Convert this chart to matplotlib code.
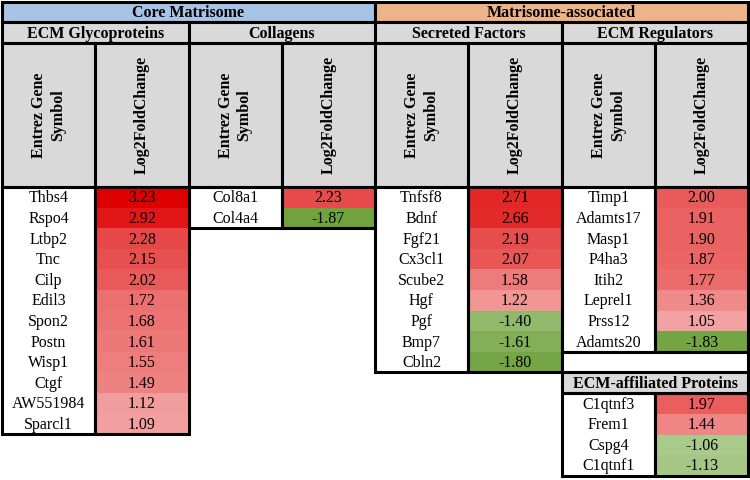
import matplotlib
matplotlib.use("Agg")
import matplotlib.pyplot as plt
from matplotlib.patches import Rectangle
import numpy as np

# ---- data ----
super_groups = ["Core Matrisome", "Matrisome-associated"]
group_names = ["ECM Glycoproteins", "Collagens", "Secreted Factors", "ECM Regulators"]
col_headers = ["Entrez Gene\nSymbol", "Log2FoldChange"]

gly_genes = ["Thbs4", "Rspo4", "Ltbp2", "Tnc", "Cilp", "Edil3", "Spon2", "Postn",
             "Wisp1", "Ctgf", "AW551984", "Sparcl1"]
gly_vals = [3.23, 2.92, 2.28, 2.15, 2.02, 1.72, 1.68, 1.61, 1.55, 1.49, 1.12, 1.09]

col_genes = ["Col8a1", "Col4a4"]
col_vals = [2.23, -1.87]

sec_genes = ["Tnfsf8", "Bdnf", "Fgf21", "Cx3cl1", "Scube2", "Hgf", "Pgf", "Bmp7", "Cbln2"]
sec_vals = [2.71, 2.66, 2.19, 2.07, 1.58, 1.22, -1.40, -1.61, -1.80]

reg_genes = ["Timp1", "Adamts17", "Masp1", "P4ha3", "Itih2", "Leprel1", "Prss12", "Adamts20"]
reg_vals = [2.00, 1.91, 1.90, 1.87, 1.77, 1.36, 1.05, -1.83]

aff_title = "ECM-affiliated Proteins"
aff_genes = ["C1qtnf3", "Frem1", "Cspg4", "C1qtnf1"]
aff_vals = [1.97, 1.44, -1.06, -1.13]

# ---- style ----
FONT = "Liberation Serif"
BLUE = "#a7c3e6"
ORANGE = "#efb389"
GREY = "#d9d9d9"
LW = 2.2
FS = 11.5

all_vals = gly_vals + col_vals + sec_vals + reg_vals + aff_vals
vmax = max(all_vals)
vmin = min(all_vals)
RED = np.array([222, 0, 0]) / 255
GREEN = np.array([112, 163, 62]) / 255
WHITE = np.array([252, 240, 240]) / 255
WHITE_G = np.array([245, 252, 240]) / 255


def val_color(v):
    if v >= 0:
        f = v / vmax
        return tuple(WHITE + (RED - WHITE) * f)
    f = v / vmin
    return tuple(WHITE_G + (GREEN - WHITE_G) * f)


fig = plt.figure(figsize=(7.5, 4.8), dpi=100)
ax = fig.add_axes([0, 0, 1, 1])
ax.set_xlim(0, 750)
ax.set_ylim(480, 0)
ax.axis("off")

xs = [2, 95, 188.5, 282, 375, 468, 562, 655, 748]
r1 = (2, 22)
r2 = (22, 43)
r3 = (43, 187)
y0 = 187
rh = 20.6


def box(x0, y0_, x1, y1, fc, lw=LW, ec="black", z=1):
    ax.add_patch(Rectangle((x0, y0_), x1 - x0, y1 - y0_, facecolor=fc,
                           edgecolor=ec, linewidth=lw, zorder=z))


def txt(x, y, s, bold=False, rot=0, fs=FS):
    ax.text(x, y, s, ha="center", va="center", rotation=rot, fontsize=fs,
            fontweight="bold" if bold else "normal", family=FONT,
            multialignment="center", zorder=5)


# super headers
box(xs[0], r1[0], xs[4], r1[1], BLUE)
box(xs[4], r1[0], xs[8], r1[1], ORANGE)
txt((xs[0] + xs[4]) / 2, (r1[0] + r1[1]) / 2 + 1, super_groups[0], bold=True)
txt((xs[4] + xs[8]) / 2, (r1[0] + r1[1]) / 2 + 1, super_groups[1], bold=True)

# group headers
for i, g in enumerate(group_names):
    a, b = xs[2 * i], xs[2 * i + 2]
    box(a, r2[0], b, r2[1], GREY)
    txt((a + b) / 2, (r2[0] + r2[1]) / 2 + 1, g, bold=True)

# rotated column headers
for c in range(8):
    a, b = xs[c], xs[c + 1]
    box(a, r3[0], b, r3[1], GREY)
    txt((a + b) / 2, (r3[0] + r3[1]) / 2, col_headers[c % 2], bold=True, rot=90, fs=11.5)


def block(ci, genes, vals, ytop, nrows=None):
    a, m, b = xs[2 * ci], xs[2 * ci + 1], xs[2 * ci + 2]
    n = len(genes)
    for k, (g, v) in enumerate(zip(genes, vals)):
        yt = ytop + k * rh
        ax.add_patch(Rectangle((m, yt), b - m, rh, facecolor=val_color(v),
                               edgecolor="none", zorder=1))
        txt((a + m) / 2, yt + rh / 2 + 1, g)
        txt((m + b) / 2, yt + rh / 2 + 1, f"{v:.2f}", fs=FS)
    yb = ytop + n * rh
    box(a, ytop, m, yb, "none", z=3)
    box(m, ytop, b, yb, "none", z=3)
    return yb


block(0, gly_genes, gly_vals, y0)
block(1, col_genes, col_vals, y0)
ysec = block(2, sec_genes, sec_vals, y0)
yreg = block(3, reg_genes, reg_vals, y0)
# blank row under regulators
box(xs[6], yreg, xs[8], ysec, "white", z=3)

# ECM-affiliated
ha0 = ysec
ha1 = ha0 + 21
box(xs[6], ha0, xs[8], ha1, GREY, z=3)
txt((xs[6] + xs[8]) / 2, (ha0 + ha1) / 2 + 1, aff_title, bold=True)
block(3, aff_genes, aff_vals, ha1)

fig.savefig("out.png", dpi=100, facecolor="white")
